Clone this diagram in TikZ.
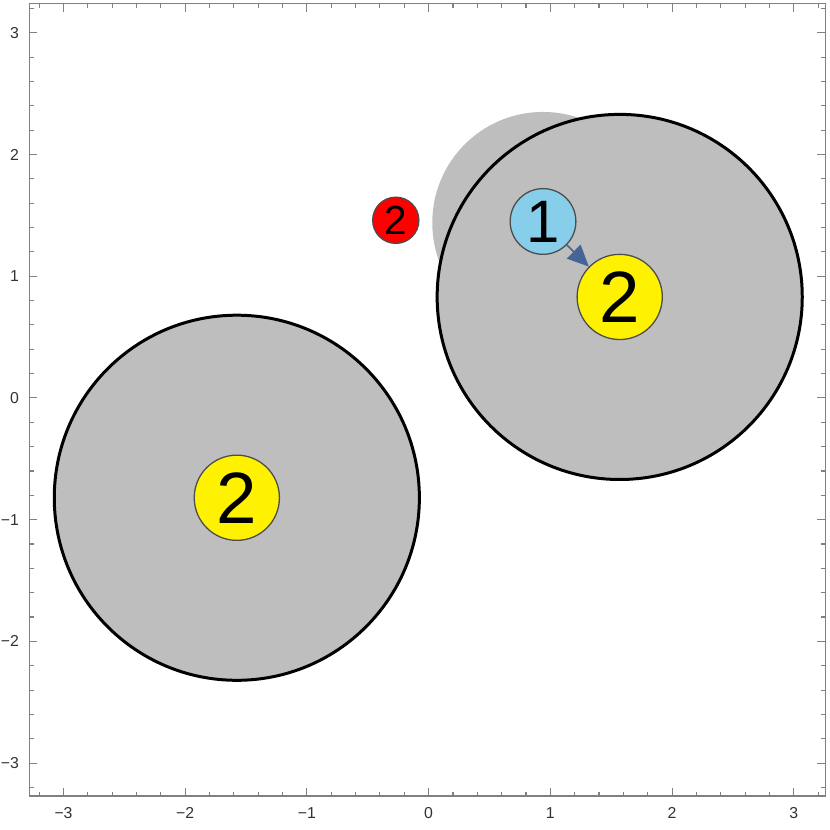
\documentclass[tikz,border=0pt]{standalone}
\usepackage{fontspec}
\setmainfont{Liberation Sans}
\usetikzlibrary{arrows.meta}
\definecolor{arrowc}{RGB}{70,100,150}
\definecolor{skyb}{RGB}{135,206,235}
\definecolor{graybg}{RGB}{190,190,190}
\begin{document}
\begin{tikzpicture}[x=1cm,y=1cm,
  big/.style={circle,draw=black,line width=0.7pt,fill=graybg,minimum size=3cm,inner sep=0pt},
  vert/.style={circle,draw=black!70,line width=0.3pt,inner sep=0pt},
  ticklab/.style={font=\fontsize{3.7}{4}\selectfont,text=black!80,inner sep=0pt}]
\useasboundingbox (-3.522,-3.55) rectangle (3.292,3.27);
\fill[white] (-3.522,-3.55) rectangle (3.292,3.27);
\fill[graybg] (0.94,1.44) circle (0.91);
\node[big] (L) at (-1.576,-0.82) {};
\node[big] (R) at (1.57,0.83) {};
\node[vert,fill=yellow,minimum size=0.7cm,font=\fontsize{17}{18}\selectfont] (yl) at (-1.576,-0.82) {2};
\node[vert,fill=yellow,minimum size=0.7cm,font=\fontsize{17}{18}\selectfont] (yr) at (1.57,0.83) {2};
\node[vert,fill=skyb,minimum size=0.54cm,font=\fontsize{14}{15}\selectfont] (one) at (0.94,1.45) {1};
\node[vert,fill=red,minimum size=0.38cm,font=\fontsize{9.5}{10}\selectfont] (red) at (-0.27,1.46) {2};
\draw[arrowc,line width=0.4pt,-{Triangle[length=5pt,width=4.5pt]}] (one) -- (yr);
\draw[gray,line width=0.3pt] (-3.28,-3.27) rectangle (3.26,3.24);
\foreach \i in {-16,...,16}{
  \pgfmathsetmacro{\v}{\i/5}
  \pgfmathsetmacro{\len}{ifthenelse(mod(abs(\i),5)==0,0.066,0.035)}
  \draw[gray,line width=0.25pt] (\v,-3.27) -- ++(0,\len);
  \draw[gray,line width=0.25pt] (\v,3.24) -- ++(0,-\len);
  \draw[gray,line width=0.25pt] (-3.28,\v) -- ++(\len,0);
  \draw[gray,line width=0.25pt] (3.26,\v) -- ++(-\len,0);
}
\foreach \v/\t in {-3/−3,-2/−2,-1/−1,0/0,1/1,2/2,3/3}{
  \node[ticklab] (bx\v) at (\v,-3.41) {\t};
  \node[ticklab,anchor=east] (ly\v) at (-3.36,\v) {\t};
}
\end{tikzpicture}
\end{document}
